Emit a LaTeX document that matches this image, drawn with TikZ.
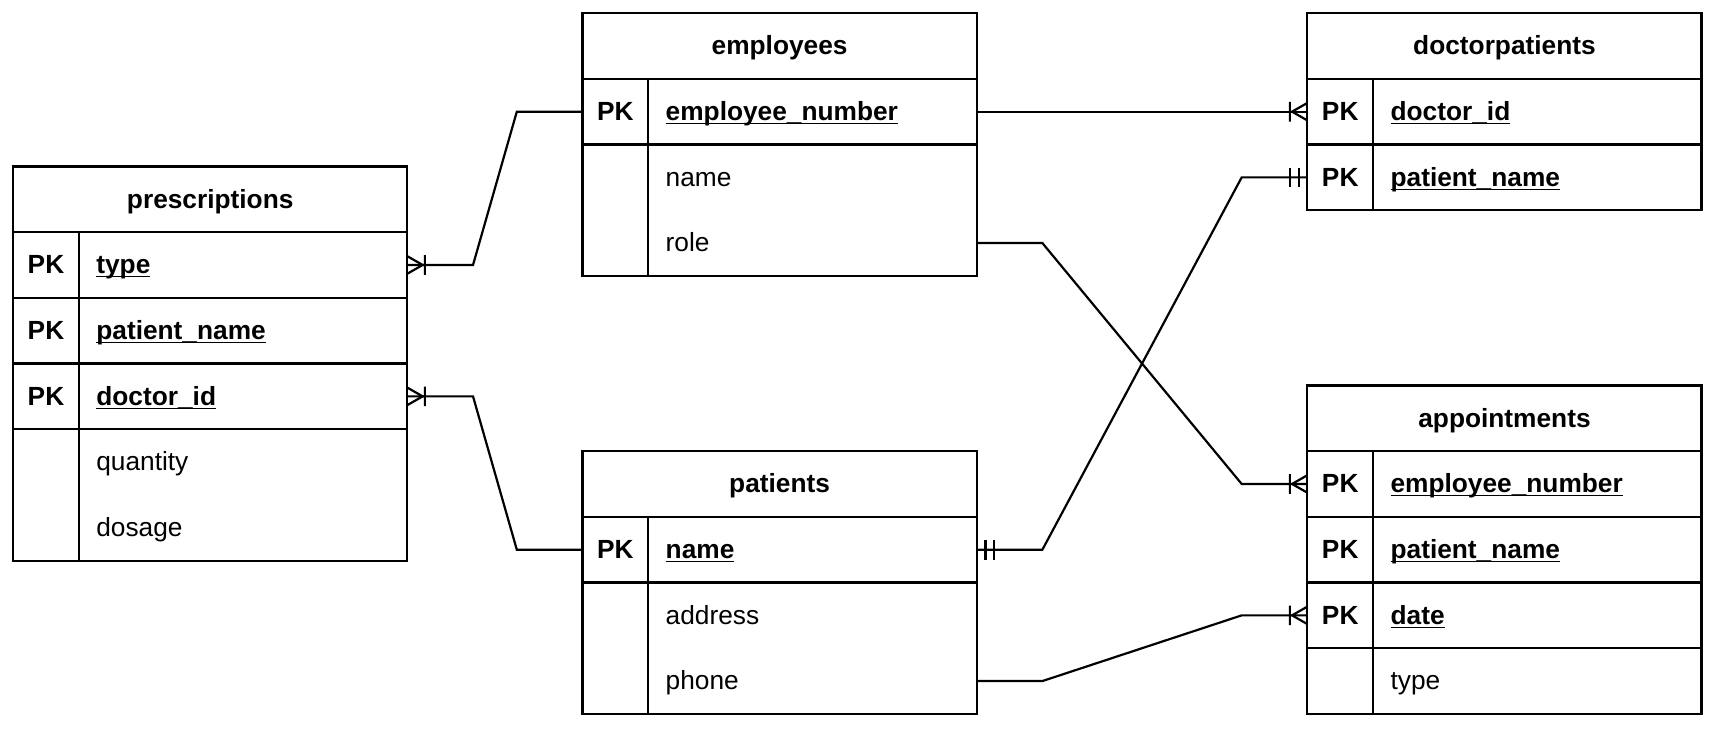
\documentclass[tikz,border=0pt]{standalone}
\usepackage{fontspec}
\setmainfont{Liberation Sans}
\usetikzlibrary{positioning}

\newcommand{\keyname}[1]{\underline{\smash{#1}}}
\newcommand{\pkrow}[1]{\makebox[30pt]{\bfseries PK}\hspace*{8pt}{\bfseries\keyname{#1}}}
\newcommand{\attrow}[1]{\hspace*{38pt}#1}

\tikzset{
    hdr/.style={draw, anchor=north west, minimum width=180pt, minimum height=30pt,
        inner sep=0pt, outer sep=0pt, text height=9pt, text depth=1pt,
        font=\fontsize{12}{14}\selectfont\bfseries},
    row/.style={draw, anchor=north west, minimum height=30pt, text width=180pt,
        inner sep=0pt, outer sep=0pt, align=left, text height=9pt, text depth=1pt},
    attr/.style={row, draw=none},
    crowfoot/.pic={\draw (0,-4) -- (7,0) -- (0,4) (8,-4.5) -- (8,4.5);},
    mandone/.pic={\draw (4,-4.5) -- (4,4.5) (8,-4.5) -- (8,4.5);}
}

\begin{document}
\begin{tikzpicture}[x=1pt, y=-1pt, line width=1pt, font=\fontsize{12}{14}\selectfont]
    \useasboundingbox (0,0) rectangle (783.6,334.2);

    % prescriptions
    \node[hdr] (pre) at (6,76) {prescriptions};
    \node[row, below=0pt of pre] (pre-type) {\pkrow{type}};
    \node[row, below=0pt of pre-type] (pre-patient) {\pkrow{patient\_name}};
    \node[row, below=0pt of pre-patient] (pre-doctor) {\pkrow{doctor\_id}};
    \node[attr, below=0pt of pre-doctor] (pre-quantity) {\attrow{quantity}};
    \node[attr, below=0pt of pre-quantity] (pre-dosage) {\attrow{dosage}};
    \draw (pre-doctor.south west) rectangle (pre-dosage.south east);
    \draw ([xshift=30pt]pre.south west) -- ([xshift=30pt]pre-dosage.south west);

    % employees
    \node[hdr] (emp) at (266,6) {employees};
    \node[row, below=0pt of emp] (emp-number) {\pkrow{employee\_number}};
    \node[attr, below=0pt of emp-number] (emp-name) {\attrow{name}};
    \node[attr, below=0pt of emp-name] (emp-role) {\attrow{role}};
    \draw (emp-number.south west) rectangle (emp-role.south east);
    \draw ([xshift=30pt]emp.south west) -- ([xshift=30pt]emp-role.south west);

    % patients
    \node[hdr] (pat) at (266,206) {patients};
    \node[row, below=0pt of pat] (pat-name) {\pkrow{name}};
    \node[attr, below=0pt of pat-name] (pat-address) {\attrow{address}};
    \node[attr, below=0pt of pat-address] (pat-phone) {\attrow{phone}};
    \draw (pat-name.south west) rectangle (pat-phone.south east);
    \draw ([xshift=30pt]pat.south west) -- ([xshift=30pt]pat-phone.south west);

    % doctorpatients
    \node[hdr] (dp) at (597,6) {doctorpatients};
    \node[row, below=0pt of dp] (dp-doctor) {\pkrow{doctor\_id}};
    \node[row, below=0pt of dp-doctor] (dp-patient) {\pkrow{patient\_name}};
    \draw ([xshift=30pt]dp.south west) -- ([xshift=30pt]dp-patient.south west);

    % appointments
    \node[hdr] (app) at (597,176) {appointments};
    \node[row, below=0pt of app] (app-employee) {\pkrow{employee\_number}};
    \node[row, below=0pt of app-employee] (app-patient) {\pkrow{patient\_name}};
    \node[row, below=0pt of app-patient] (app-date) {\pkrow{date}};
    \node[attr, below=0pt of app-date] (app-type) {\attrow{type}};
    \draw (app-date.south west) rectangle (app-type.south east);
    \draw ([xshift=30pt]app.south west) -- ([xshift=30pt]app-type.south west);

    % relationships
    \draw (emp-number.west) -- ++(-30,0) -- ([xshift=30pt]pre-type.east) -- (pre-type.east);
    \draw (pat-name.west) -- ++(-30,0) -- ([xshift=30pt]pre-doctor.east) -- (pre-doctor.east);
    \draw (emp-number.east) -- (dp-doctor.west);
    \draw (pat-name.east) -- ++(30,0) -- ([xshift=-30pt]dp-patient.west) -- (dp-patient.west);
    \draw (emp-role.east) -- ++(30,0) -- ([xshift=-30pt]app-employee.west) -- (app-employee.west);
    \draw (pat-phone.east) -- ++(30,0) -- ([xshift=-30pt]app-date.west) -- (app-date.west);

    % end markers
    \pic at (pre-type.east) {crowfoot};
    \pic at (pre-doctor.east) {crowfoot};
    \pic[xscale=-1] at (dp-doctor.west) {crowfoot};
    \pic[xscale=-1] at (app-employee.west) {crowfoot};
    \pic[xscale=-1] at (app-date.west) {crowfoot};
    \pic at (pat-name.east) {mandone};
    \pic[xscale=-1] at (dp-patient.west) {mandone};
\end{tikzpicture}
\end{document}
